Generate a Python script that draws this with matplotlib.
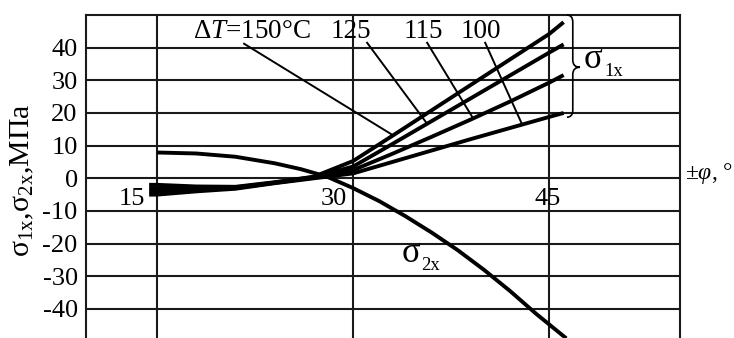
import numpy as np
import matplotlib
matplotlib.use("Agg")
import matplotlib.pyplot as plt
from matplotlib.path import Path
from matplotlib.patches import PathPatch

plt.rcParams['font.family'] = ['Liberation Serif', 'DejaVu Serif']
plt.rcParams['mathtext.fontset'] = 'custom'
plt.rcParams['mathtext.rm'] = 'Liberation Serif'
plt.rcParams['mathtext.it'] = 'Liberation Serif:italic'

# ---- data ----
phi1 = [14.4, 15, 18, 21, 24, 27, 30, 33, 36, 39, 42, 45, 46.1]
s1_150 = [-2.0, -2.0, -2.5, -2.6, -1.2, 0.5, 5.3, 13.0, 20.8, 28.6, 36.4, 44.2, 47.8]
s1_125 = [-3.0, -3.0, -3.0, -2.8, -1.3, 0.4, 3.6, 10.5, 17.5, 24.5, 31.5, 38.5, 41.0]
s1_115 = [-4.0, -4.0, -3.5, -3.0, -1.4, 0.2, 2.5, 7.5, 12.7, 18.0, 23.5, 29.3, 31.6]
s1_100 = [-5.0, -5.0, -4.0, -3.2, -1.5, 0.0, 1.5, 5.0, 8.5, 12.0, 15.4, 18.8, 20.0]
dT_labels = ["125", "115", "100"]

phi2 = [15, 18, 21, 24, 26, 28, 30, 32, 34, 36, 38, 40, 42, 44, 46.3]
s2 = [7.9, 7.6, 6.6, 4.6, 2.8, 0.5, -3.0, -7.0, -11.6, -16.6, -22.0, -28.0, -34.5, -41.5, -49.0]

y_ticks = [-40, -30, -20, -10, 0, 10, 20, 30, 40]
y_tick_labels = ["-40", "-30", "-20", "-10", "0", "10", "20", "30", "40"]
x_ticks = [15, 30, 45]
x_tick_labels = ["15", "30", "45"]

# ---- figure ----
W, H = 734, 338
fig = plt.figure(figsize=(W / 100, H / 100), dpi=100)
ax = fig.add_axes([86 / W, -3.6 / H, 594 / W, 326.6 / H])
ax.set_xlim(9.57, 55.0)
ax.set_ylim(-50, 50)

K = '#000000'
lw_grid = 1.5
for s in ax.spines.values():
    s.set_linewidth(lw_grid)
    s.set_color('#1a1a1a')
ax.set_xticks([])
ax.set_yticks(y_ticks)
ax.set_yticklabels(y_tick_labels, fontsize=19)
ax.tick_params(axis='y', length=0, pad=6)
for y in y_ticks:
    ax.axhline(y, color='#1a1a1a', lw=lw_grid, zorder=1)
for x in x_ticks:
    ax.axvline(x, color='#1a1a1a', lw=lw_grid, zorder=1)

# x tick labels inside the plot
xl_x = [14.1, 29.55, 44.85]
xl_ha = ['right', 'right', 'center']
for xv, lab, ha in zip(xl_x, x_tick_labels, xl_ha):
    ax.text(xv, -6.3, lab, fontsize=19, ha=ha, va='center')

# curves
clw = 2.8
for ys in (s1_150, s1_125, s1_115, s1_100):
    ax.plot(phi1, ys, color=K, lw=clw, zorder=3, solid_capstyle='butt',
            solid_joinstyle='round')
ax.plot(phi2, s2, color=K, lw=clw, zorder=3, solid_capstyle='butt',
        solid_joinstyle='round')

# leader lines
curves = [s1_150, s1_125, s1_115, s1_100]
starts = [(21.66, 41.2), (31.07, 41.5), (35.66, 41.5), (40.1, 41.5)]
ends_x = [33.06, 35.66, 39.18, 42.93]
for c, st, ex in zip(curves, starts, ends_x):
    ey = np.interp(ex, phi1, c)
    ax.plot([st[0], ex], [st[1], ey], color=K, lw=1.4, zorder=2)

ax.text(17.75, 44.8, r'$\mathit{ΔT}$=150°C', fontsize=19.5, ha='left', va='center')
for xv, lab in zip([29.84, 35.4, 39.8], dT_labels):
    ax.text(xv, 44.8, lab, fontsize=19.5, ha='center', va='center')

# brace
def brace(ax, x0, y0, y1, ym, w):
    xb = x0 + w * 0.45
    r = (y1 - y0) * 0.07
    verts = [
        (x0, y1), (xb, y1), (xb, y1 - r),
        (xb, ym + r),
        (xb, ym), (x0 + w, ym),
        (xb, ym), (xb, ym - r),
        (xb, y0 + r),
        (xb, y0), (x0, y0),
    ]
    codes = [Path.MOVETO, Path.CURVE3, Path.CURVE3,
             Path.LINETO,
             Path.CURVE3, Path.CURVE3,
             Path.CURVE3, Path.CURVE3,
             Path.LINETO,
             Path.CURVE3, Path.CURVE3]
    ax.add_patch(PathPatch(Path(verts, codes), fill=False, lw=1.2,
                           color=K, clip_on=False, zorder=4))

brace(ax, 46.35, 18.7, 50.0, 34.0, 1.0)

# sigma labels (pixel positions)
def sig(px, py, sub, subdx, subdy):
    fig.text(px / W, 1 - py / H, 'σ', fontsize=25, ha='left', va='center')
    fig.text((px + subdx) / W, 1 - (py + subdy) / H, sub, fontsize=13.5,
             ha='left', va='center')

sig(584, 59, '1x', 20, 12)
sig(402, 254, '2x', 19, 11)

ax.text(1.008, 0.5 + 1.5 / 100, r'±$\mathit{φ}$, °', transform=ax.transAxes,
        fontsize=17, ha='left', va='center')

fig.text(22 / W, 1 - 180 / H, r'$\mathregular{σ_{1x}}$,$\mathregular{σ_{2x}}$,МПа',
         rotation=90, fontsize=21.5, ha='center', va='center')

fig.savefig('out.png', dpi=100)
